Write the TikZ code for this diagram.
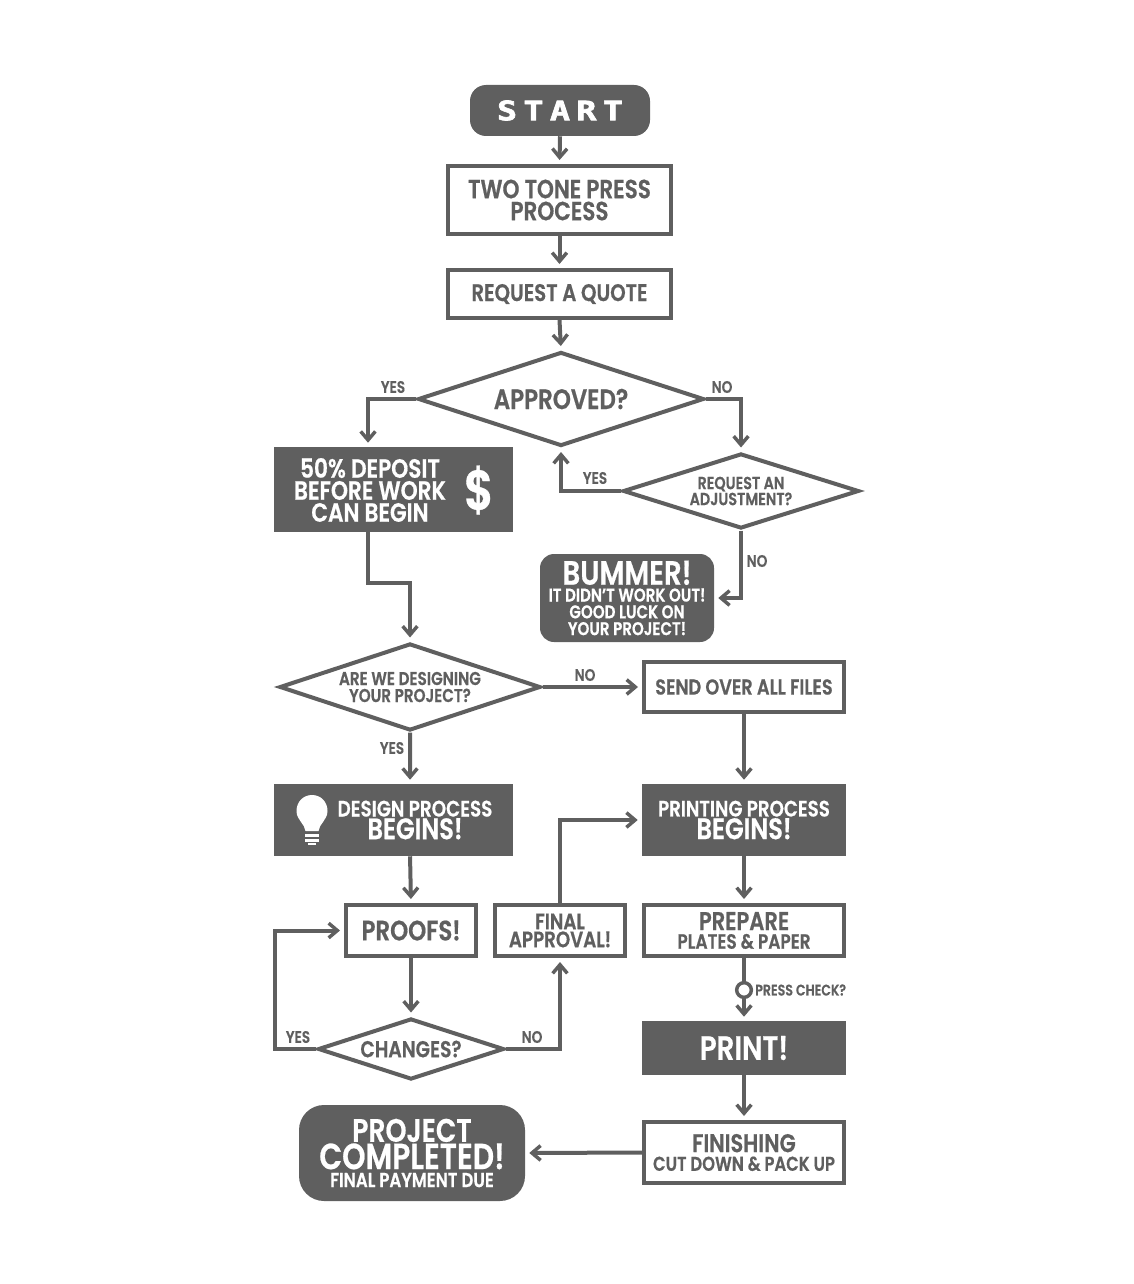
\documentclass[tikz,border=0pt]{standalone}
\usepackage{fontspec}
\usepackage{tikz}
\usetikzlibrary{arrows.meta}
\usetikzlibrary{shapes,shapes.geometric}
\setmainfont{Poppins}[FakeStretch=0.82,BoldFont={Poppins SemiBold},BoldFeatures={FakeBold=0.6}]
\newfontfamily\pixelfont[LetterSpace=24,FakeStretch=1.25,FakeBold=2.5]{DejaVu Sans Mono}
\definecolor{twotonegray}{RGB}{95,95,95}
\newcommand{\ftsz}[1]{\fontsize{#1}{#1}\selectfont}
\begin{document}
\begin{tikzpicture}[twotonegray,x=0.75pt,y=-0.75pt,font=\bfseries,
		boxsize/.style 2 args={minimum width=#1*0.75pt,minimum height=#2*0.75pt},
		leading/.style={font=\bfseries\fontsize{10}{#1}\selectfont},
		whitebox/.style={draw=twotonegray,line width=3pt,fill=white,text=twotonegray,inner sep=0pt,align=center},
		darkbox/.style={fill=twotonegray,text=white,inner sep=0pt,align=center},
		darkround/.style={darkbox,rounded corners=#1*0.75pt},
		decision/.style 2 args={diamond,whitebox,boxsize={#1}{#2},miter limit=20},
		whitetext/.style={text=white,inner sep=0pt,align=center},
		branchtext/.style={text=twotonegray,inner sep=0pt,font=\bfseries\ftsz{12.5}},
		flowarrow/.style={line width=3pt,-{Straight Barb[length=6.5pt,width=11pt,line width=2.6pt]},shorten >=3pt}]
	\useasboundingbox (0,0) rectangle (1134,1284);
	\node[darkround=16,boxsize={180}{51}] (start) at (560,110.5) {\pixelfont\bfseries\ftsz{20}START};
	\node[whitebox,boxsize={223}{68},leading=16.5] (twotone) at (559.5,200) {\ftsz{19.7}TWO TONE PRESS\\\ftsz{19.7}PROCESS};
	\node[whitebox,boxsize={223}{48}] (quote) at (559.5,294) {\ftsz{18}REQUEST A QUOTE};
	\node[decision={286}{94},aspect=3.05] (approved) at (561,399) {\ftsz{21}APPROVED?};
	\node[decision={236}{75},aspect=3.17] (adjust) at (741,491) {\ftsz{13.1}REQUEST AN\\\ftsz{13.1}ADJUSTMENT?};
	\node[darkbox,boxsize={239}{85}] (deposit) at (393.5,489.5) {};
	\node[whitetext,leading=16.5] (deposittext) at (370,490) {\ftsz{19.8}50\% DEPOSIT\\\ftsz{19.8}BEFORE WORK\\\ftsz{19.8}CAN BEGIN};
	\node[whitetext] (dollar) at (479,490) {\ftsz{42}\$};
	\node[darkround=14,boxsize={174}{88},leading=12.6] (bummer) at (627,598) {\ftsz{25.3}BUMMER!\\\ftsz{13.8}IT DIDN'T WORK OUT!\\\ftsz{13.8}GOOD LUCK ON\\\ftsz{13.8}YOUR PROJECT!};
	\node[decision={261}{87},aspect=3,leading=12.75] (designing) at (410,687) {\ftsz{13.9}ARE WE DESIGNING\\\ftsz{13.9}YOUR PROJECT?};
	\node[whitebox,boxsize={200}{50}] (send) at (744,687) {\ftsz{16.2}SEND OVER ALL FILES};
	\node[darkbox,boxsize={239}{72}] (design) at (393.5,820) {};
	\node[whitetext,leading=17] (designtext) at (415,820) {\ftsz{16.8}DESIGN PROCESS\\\ftsz{22.2}BEGINS!};
	\node[darkbox,boxsize={204}{72},leading=17] (printing) at (744,820) {\ftsz{16.7}PRINTING PROCESS\\\ftsz{22.2}BEGINS!};
	\node[whitebox,boxsize={130}{51}] (proofs) at (411,930.5) {\ftsz{21}PROOFS!};
	\node[whitebox,boxsize={130}{51},leading=13.5] (final) at (560,930.5) {\ftsz{16.7}FINAL\\\ftsz{16.7}APPROVAL!};
	\node[whitebox,boxsize={200}{51},leading=14] (prepare) at (744,930.5) {\ftsz{19.3}PREPARE\\\ftsz{15.5}PLATES \& PAPER};
	\node[decision={186}{61},aspect=3.05] (changes) at (411,1049) {\ftsz{17.2}CHANGES?};
	\node[darkbox,boxsize={204}{54}] (print) at (744,1048) {\ftsz{25.3}PRINT!};
	\node[whitebox,boxsize={200}{61},leading=14] (finishing) at (744,1152.5) {\ftsz{19.2}FINISHING\\\ftsz{15}CUT DOWN \& PACK UP};
	\node[darkround=25,boxsize={226}{96},leading=13.5] (completed) at (412,1153) {\ftsz{24.4}PROJECT\\\ftsz{27.2}COMPLETED!\\\ftsz{15.2}FINAL PAYMENT DUE};
	\fill[white] (312,795) .. controls (303,795) and (296.5,802) .. (296.5,811) .. controls (296.5,820) and (305,824) .. (305.5,831) -- (318.5,831) .. controls (319,824) and (327.5,820) .. (327.5,811) .. controls (327.5,802) and (321,795) .. (312,795) -- cycle;
	\fill[white] (305,833.5) rectangle (319,836.5);
	\fill[white] (305,838.5) rectangle (319,841.5);
	\fill[white] (308,843) rectangle (316,845);
	\node[branchtext] (yesapproved) at (393,387) {YES};
	\node[branchtext] (noapproved) at (722,387) {NO};
	\node[branchtext] (yesadjust) at (595,478) {YES};
	\node[branchtext] (noadjust) at (757,561) {NO};
	\node[branchtext] (nodesigning) at (585,675) {NO};
	\node[branchtext] (yesdesigning) at (392,748) {YES};
	\node[branchtext] (yeschanges) at (298,1037) {YES};
	\node[branchtext] (nochanges) at (532,1037) {NO};
	\node[branchtext,font=\bfseries\ftsz{11.5},anchor=west] (presscheck) at (755,990) {PRESS CHECK?};
	\draw[flowarrow] (start.south) -- (twotone.north);
	\draw[flowarrow] (twotone.south) -- (quote.north);
	\draw[flowarrow] (quote.south) -- (approved.north);
	\draw[flowarrow] (approved.west) -| ([xshift=-19.1pt]deposit.north);
	\draw[flowarrow] (approved.east) -| (adjust.north);
	\draw[flowarrow] (adjust.west) -| (approved.south);
	\draw[flowarrow] (adjust.south) |- (bummer.east);
	\draw[flowarrow] ([xshift=-19.1pt]deposit.south) -- ++(0,51) -| (designing.north);
	\draw[flowarrow] (designing.east) -- (send.west);
	\draw[flowarrow] (designing.south) -- ([xshift=12.4pt]design.north);
	\draw[flowarrow] (send.south) -- (printing.north);
	\draw[flowarrow] ([xshift=12.4pt]design.south) -- (proofs.north);
	\draw[flowarrow] (proofs.south) -- (changes.north);
	\draw[flowarrow] (changes.west) -- ++(-41,0) |- (proofs.west);
	\draw[flowarrow] (changes.east) -| (final.south);
	\draw[flowarrow] (final.north) |- (printing.west);
	\draw[flowarrow] (printing.south) -- (prepare.north);
	\draw[flowarrow] (prepare.south) -- (print.north);
	\draw[flowarrow] (print.south) -- (finishing.north);
	\draw[flowarrow] (finishing.west) -- (completed.east);
	\node[circle,draw=twotonegray,line width=2.6pt,fill=white,minimum size=11pt,inner sep=0pt] (checkpoint) at (744,990) {};
\end{tikzpicture}
\end{document}
